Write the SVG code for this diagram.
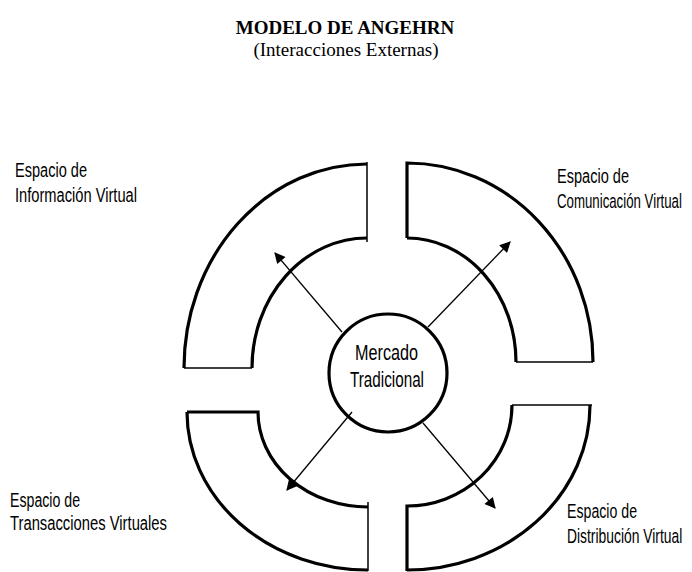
<svg xmlns="http://www.w3.org/2000/svg" width="692" height="572" viewBox="0 0 692 572">
<style>
.arc{fill:none;stroke:#000;stroke-width:3.2;stroke-linejoin:miter}
.edge{fill:none;stroke:#000;stroke-width:1.5}
.lbl{font-family:"Liberation Sans",Arial,sans-serif;font-size:19.5px;fill:#000}
.ctr{font-family:"Liberation Sans",Arial,sans-serif;font-size:22px;fill:#000}
.ttl{font-family:"Liberation Serif","Times New Roman",serif;font-size:19px;fill:#000;text-anchor:middle}
.conn{stroke:#000;stroke-width:1.3;fill:none}
</style>
<defs>
<marker id="ah" viewBox="0 0 10 10" refX="9" refY="5" markerWidth="14" markerHeight="11" markerUnits="userSpaceOnUse" orient="auto">
<path d="M0,0 L10,5 L0,10 Z" fill="#000"/>
</marker>
</defs>
<rect width="692" height="572" fill="#fff"/>
<g id="title">
<text class="ttl" x="345" y="34" font-weight="bold">MODELO DE ANGEHRN</text>
<text class="ttl" x="346" y="56">(Interacciones Externas)</text>
</g>
<g id="q-informacion">
<path class="arc" d="M367,164 A183,204 0 0 0 184,368"/>
<path class="arc" d="M252,368 A115,130 0 0 1 367,238"/>
<path class="edge" d="M184,368 L252,368 M367,162 L367,242"/>
<text class="lbl" x="15" y="177" textLength="72" lengthAdjust="spacingAndGlyphs">Espacio de</text>
<text class="lbl" x="15" y="202" textLength="122" lengthAdjust="spacingAndGlyphs">Información Virtual</text>
</g>
<g id="q-comunicacion">
<path class="arc" d="M407,238 L407,163 A186,199 0 0 1 593,362"/>
<path class="arc" d="M516,362 A109,124 0 0 0 407,238"/>
<path class="edge" d="M516,362 L593,362"/>
<text class="lbl" x="557" y="183" textLength="72" lengthAdjust="spacingAndGlyphs">Espacio de</text>
<text class="lbl" transform="translate(557,208) scale(0.69,1)" x="0" y="0" textLength="181" lengthAdjust="spacingAndGlyphs">Comunicación Virtual</text>
</g>
<g id="q-transacciones">
<path class="arc" d="M187,412 L258,412 A110,95 0 0 0 368,507"/>
<path class="arc" d="M187,412 A181,158 0 0 0 368,570"/>
<path class="edge" d="M368,502 L368,571"/>
<text class="lbl" x="10" y="507" textLength="70" lengthAdjust="spacingAndGlyphs">Espacio de</text>
<text class="lbl" x="10" y="530" textLength="157" lengthAdjust="spacingAndGlyphs">Transacciones Virtuales</text>
</g>
<g id="q-distribucion">
<path class="arc" d="M512,405 A105,101 0 0 1 407,506 L407,571"/>
<path class="arc" d="M590,405 A183,165 0 0 1 407,570"/>
<path class="edge" d="M512,405 L592,405"/>
<text class="lbl" x="567" y="518" textLength="70" lengthAdjust="spacingAndGlyphs">Espacio de</text>
<text class="lbl" transform="translate(567,543) scale(0.69,1)" x="0" y="0" textLength="167" lengthAdjust="spacingAndGlyphs">Distribución Virtual</text>
</g>
<g id="mercado">
<circle cx="388" cy="373" r="59" fill="none" stroke="#000" stroke-width="3.2"/>
<text class="ctr" x="355" y="360" textLength="63" lengthAdjust="spacingAndGlyphs">Mercado</text>
<text class="ctr" x="350" y="387" textLength="74" lengthAdjust="spacingAndGlyphs">Tradicional</text>
</g>
<g id="connectors">
<line class="conn" x1="342" y1="332" x2="275" y2="253" marker-end="url(#ah)"/>
<line class="conn" x1="428" y1="327" x2="510" y2="242" marker-end="url(#ah)"/>
<line class="conn" x1="352" y1="412" x2="287" y2="490" marker-end="url(#ah)"/>
<line class="conn" x1="423" y1="423" x2="495" y2="508" marker-end="url(#ah)"/>
</g>
</svg>
